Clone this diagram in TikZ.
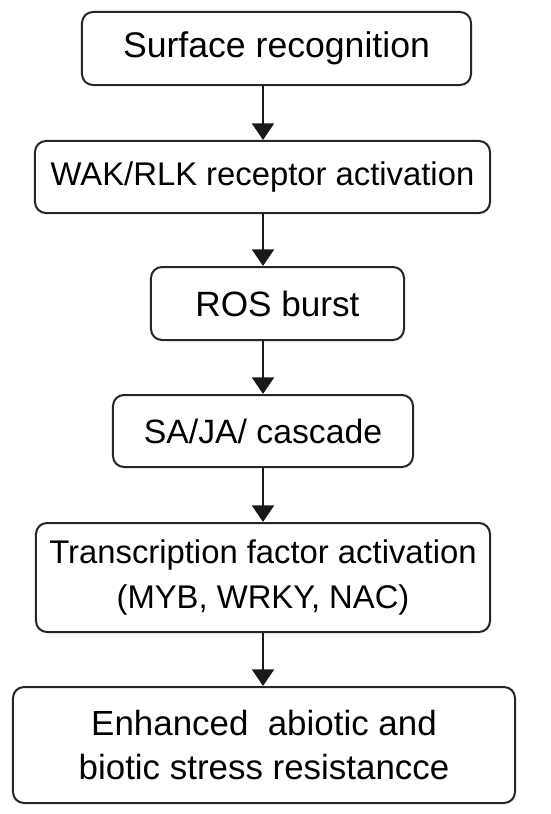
\documentclass[tikz,border=0pt]{standalone}
\usepackage{fontspec}
\setmainfont{Liberation Sans}
\usepackage{tikz}
\usetikzlibrary{arrows.meta, positioning, calc}

\begin{document}
\begin{tikzpicture}[x=0.03cm, y=-0.03cm,
  stepbox/.style={rectangle, rounded corners=0.33cm, draw=black!85, line width=0.6mm, fill=white, align=center, font=\fontsize{28}{38.3}\selectfont, inner sep=0pt},
  arr/.style={-{Triangle[width=6.6mm, length=5mm]}, line width=0.65mm, draw=black!90}
]
\useasboundingbox (0,0) rectangle (550,814);
\node[stepbox, minimum width=11.67cm, minimum height=2.19cm, font=\fontsize{30.4}{38.3}\selectfont] (surf) at (276.5,48.5) {Surface recognition};
\node[stepbox, minimum width=13.65cm, minimum height=2.16cm] (wak) at (262.5,177) {WAK/RLK receptor activation};
\node[stepbox, minimum width=7.59cm, minimum height=2.19cm, font=\fontsize{30}{38.3}\selectfont] (ros) at (277.5,303.5) {ROS burst};
\node[stepbox, minimum width=9.0cm, minimum height=2.16cm, font=\fontsize{28.8}{38.3}\selectfont] (saja) at (263,431) {SA/JA/ cascade};
\node[stepbox, minimum width=13.62cm, minimum height=3.27cm] (tf) at (263,577.5) {Transcription factor activation\\(MYB, WRKY, NAC)};
\node[stepbox, minimum width=15.06cm, minimum height=3.48cm, font=\fontsize{29.8}{38.3}\selectfont] (res) at (264,745) {Enhanced~ abiotic and\\biotic stress resistancce};
\coordinate (ax) at (263,0);
\draw[arr] (surf.south -| ax) -- (wak.north -| ax);
\draw[arr] (wak.south -| ax) -- (ros.north -| ax);
\draw[arr] (ros.south -| ax) -- (saja.north -| ax);
\draw[arr] (saja.south -| ax) -- (tf.north -| ax);
\draw[arr] (tf.south -| ax) -- (res.north -| ax);
\end{tikzpicture}
\end{document}
